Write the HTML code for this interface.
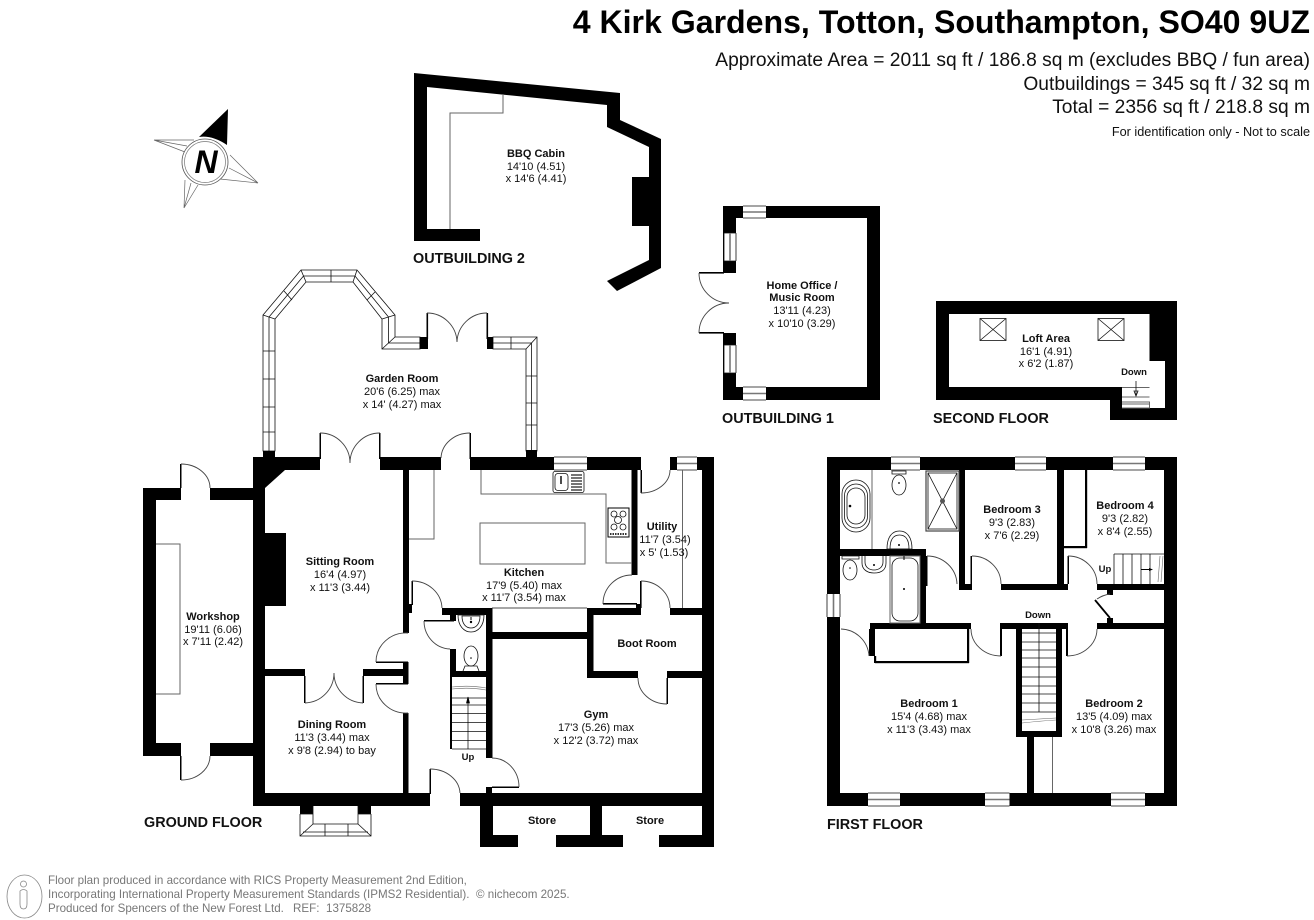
<!DOCTYPE html>
<html><head><meta charset="utf-8"><style>
html,body{margin:0;padding:0;background:#fff;width:1314px;height:920px;overflow:hidden}
svg{display:block}
text{font-family:"Liberation Sans",sans-serif;fill:#111}
.c{text-anchor:middle;font-size:11px}
.b{font-weight:bold}
.f{font-size:14.4px;font-weight:bold}
.h{text-anchor:end}
.foot{font-size:11.6px;fill:#777}
.t{fill:none;stroke:#111;stroke-width:.8}
.d{fill:none;stroke:#444;stroke-width:.9}
.g{fill:none;stroke:#666;stroke-width:1}
.k{fill:none;stroke:#000;stroke-width:1.6}
.m{fill:none;stroke:#777;stroke-width:1.6}
</style></head><body>
<svg width="1314" height="920" viewBox="0 0 1314 920" xmlns="http://www.w3.org/2000/svg">
<rect width="1314" height="920" fill="#fff"/>

<!-- header -->
<text x="1310" y="33" class="h b" font-size="32.1" style="fill:#000">4 Kirk Gardens, Totton, Southampton, SO40 9UZ</text>
<text x="1310" y="66" class="h" font-size="19.22">Approximate Area = 2011 sq ft / 186.8 sq m (excludes BBQ / fun area)</text>
<text x="1310" y="90" class="h" font-size="19.22">Outbuildings = 345 sq ft / 32 sq m</text>
<text x="1310" y="113" class="h" font-size="19.22">Total = 2356 sq ft / 218.8 sq m</text>
<text x="1310" y="136" class="h" font-size="12.7">For identification only - Not to scale</text>

<!-- compass -->
<g>
<path d="M228 109 L199 137 Q212 135 227 145 Z" fill="#000"/>
<path d="M154 140 L194 140 M154 140 L185 152 M154 140 L187 146 M258 183 L230 155 M258 183 L220 179 M258 183 L229 168 M184 208 L185 180 M184 208 L198 185 M184 208 L191 183" fill="none" stroke="#666" stroke-width=".7"/>
<circle cx="205" cy="162" r="23" fill="#fff" stroke="#555" stroke-width=".8"/>
<circle cx="205" cy="162" r="20.5" fill="#fff" stroke="#777" stroke-width=".7"/>
<text x="206" y="173" text-anchor="middle" font-size="32" font-weight="bold" font-style="italic" style="fill:#000">N</text>
</g>

<!-- OUTBUILDING 2 -->
<path d="M414 73 L620 93 L620 120 L661 139 L661 268 L617 291 L607 281 L649 260 L649 147 L607 127 L607 105 L427 87 L427 229 L480 229 L480 241 L414 241 Z" fill="#000"/>
<rect x="632" y="177" width="17" height="49" fill="#000"/>
<path d="M503 94 V113 H450 V229" class="g" stroke="#555"/>
<text x="536" y="157" class="c b">BBQ Cabin</text>
<text x="536" y="170" class="c">14'10 (4.51)</text>
<text x="536" y="182" class="c">x 14'6 (4.41)</text>
<text x="413" y="263" class="f">OUTBUILDING 2</text>

<!-- OUTBUILDING 1 -->
<path d="M723 206 H880 V400 H723 V333 H736 V273 H723 Z M736 218 V387 H867 V218 Z" fill="#000" fill-rule="evenodd"/>
<rect x="743" y="206" width="23" height="12" fill="#fff"/>
<rect x="743" y="387" width="23" height="13" fill="#fff"/>
<rect x="724" y="233" width="12" height="28" fill="#fff"/><rect x="724" y="345" width="12" height="28" fill="#fff"/>
<path d="M743 206H766M743 218H766M743 387H766M743 400H766M724 233H736M724 261H736M724 233V261M736 233V261M724 345H736M724 373H736M724 345V373M736 345V373" class="t"/>
<path d="M743 212H766M743 393.500H766M730 233V261M730 345V373" class="m"/>
<rect x="699" y="272" width="25" height="1.6" fill="#000"/><rect x="699" y="332" width="25" height="1.6" fill="#000"/>
<path d="M699 273 A30 30 0 0 0 729 303 M699 333 A30 30 0 0 1 729 303" class="d"/>
<text x="802" y="289" class="c b">Home Office /</text>
<text x="802" y="301" class="c b">Music Room</text>
<text x="802" y="314" class="c">13'11 (4.23)</text>
<text x="802" y="327" class="c">x 10'10 (3.29)</text>
<text x="722" y="423" class="f">OUTBUILDING 1</text>

<!-- SECOND FLOOR -->
<path d="M936 301 H1177 V420 H1110 V400 H936 Z" fill="#000"/>
<rect x="949" y="314" width="200.5" height="73" fill="#fff"/>
<rect x="1149.5" y="361" width="15.5" height="47" fill="#fff"/>
<rect x="1122" y="387" width="27.5" height="21" fill="#fff"/>
<path d="M1122 387.500H1149.500M1122 397H1149.500M1122 402H1149.500V408H1122M1122 404H1149" class="g"/>
<path d="M1136 381 V395 M1134 391 L1136 396 L1138 391Z" class="t"/>
<g class="t"><rect x="980" y="318.500" width="26" height="22"/><path d="M980 318.500L1006 340.500M1006 318.500L980 340.500"/><rect x="1098" y="318.500" width="26" height="22"/><path d="M1098 318.500L1124 340.500M1124 318.500L1098 340.500"/></g>
<text x="1046" y="342" class="c b">Loft Area</text>
<text x="1046" y="355" class="c">16'1 (4.91)</text>
<text x="1046" y="367" class="c">x 6'2 (1.87)</text>
<text x="1134" y="375" class="c b" style="font-size:9.5px">Down</text>
<text x="933" y="423" class="f">SECOND FLOOR</text>

<!-- GARDEN ROOM glazing -->
<path d="M263 451 V315 L301 270 H357 L395 315 V337 H420 V349 H382 V319 L353 282 H306 L275 319 V451 Z" fill="#fff" class="t"/>
<path d="M269 451 V317 L303.500 276 H355 L388.500 317 V343 H420" class="t"/>
<path d="M263 315 L275 319 M301 270 L306 282 M357 270 L353 282 M395 315 L382 319 M395 337 L382 349 M263 351H275M263 379H275M263 407H275M263 432H275M331 270V282M284 291L292 300M375 292L367 300" class="t"/>
<path d="M493 337 H537 V451 H526 V349 H493 Z" fill="#fff" class="t"/>
<path d="M493 343 H531.500 V451" class="t"/>
<path d="M537 337 L526 349 M526 376H537M526 403H537M526 425H537M511 337V349" class="t"/>
<rect x="419.5" y="337" width="8.5" height="12" fill="#000"/>
<rect x="487" y="337" width="6" height="12" fill="#000"/>
<rect x="263" y="451" width="12" height="8" fill="#000"/>
<rect x="526" y="450" width="11" height="8" fill="#000"/>
<rect x="426.5" y="313" width="1.6" height="26" fill="#000"/>
<rect x="486.5" y="313" width="1.6" height="26" fill="#000"/>
<path d="M427 313 A30 30 0 0 1 457 342 M487 313 A30 30 0 0 0 457 342" class="d"/>
<text x="402" y="382" class="c b">Garden Room</text>
<text x="402" y="395" class="c">20'6 (6.25) max</text>
<text x="402" y="408" class="c">x 14' (4.27) max</text>

<!-- GROUND FLOOR walls -->
<g fill="#000">
<rect x="143" y="488" width="13" height="268"/>
<rect x="143" y="488" width="38" height="12"/>
<rect x="210" y="488" width="43" height="12"/>
<rect x="143" y="743" width="38" height="13"/>
<rect x="210" y="743" width="43" height="13"/>
<rect x="253" y="457" width="12" height="349"/>
<rect x="253" y="457" width="67" height="13"/>
<path d="M265 488 L285 470 L265 470 Z"/>
<rect x="380" y="457" width="61" height="13"/>
<rect x="470" y="457" width="84" height="13"/>
<rect x="587" y="457" width="54" height="13"/>
<rect x="670" y="457" width="7" height="13"/>
<rect x="697" y="457" width="17" height="13"/>
<rect x="702" y="457" width="12" height="390"/>
<rect x="265" y="533" width="21" height="73"/>
<rect x="253" y="793" width="177" height="13"/>
<rect x="460" y="793" width="254" height="13"/>
<rect x="300" y="806" width="13" height="8"/>
<rect x="358" y="806" width="13" height="8"/>
<rect x="403" y="470" width="6" height="163"/>
<rect x="409" y="604" width="3" height="9"/>
<rect x="403" y="662" width="5.5" height="22"/>
<rect x="403" y="713" width="5.5" height="80"/>
<rect x="265" y="669" width="40" height="7"/>
<rect x="363" y="669" width="45" height="7"/>
<rect x="304" y="676" width="1.5" height="27"/>
<rect x="362.5" y="676" width="1.5" height="27"/>
<rect x="376" y="661.5" width="32" height="1.5"/>
<rect x="376" y="683" width="32" height="1.5"/>
<rect x="442" y="608" width="50" height="7"/>
<rect x="450" y="615" width="6" height="6"/>
<rect x="450" y="649" width="6" height="28"/>
<rect x="450" y="671" width="42" height="6"/>
<rect x="450" y="677" width="2" height="72"/>
<rect x="486" y="608" width="6.5" height="150"/>
<rect x="424" y="620" width="30" height="1.5"/>
<rect x="486" y="787" width="6" height="6"/>
<rect x="492" y="786.5" width="27" height="1.5"/>
<rect x="492" y="632" width="95" height="7"/>
<rect x="587" y="608" width="6.5" height="70"/>
<rect x="587" y="608" width="54" height="7"/>
<rect x="670" y="608" width="32" height="7"/>
<rect x="587" y="671" width="51" height="7"/>
<rect x="667" y="671" width="35" height="7"/>
<rect x="666.5" y="678" width="1.5" height="26"/>
<rect x="640" y="581" width="1.6" height="27"/>
<rect x="631.5" y="470" width="6" height="105"/>
<rect x="603" y="603" width="34" height="1.6"/>
<rect x="636" y="604" width="5" height="6"/>
<rect x="640.5" y="470" width="1.5" height="23"/>
<rect x="411.5" y="581" width="1.5" height="24"/>
<rect x="180" y="464" width="1.5" height="24"/>
<rect x="180" y="756" width="1.5" height="24"/>
<rect x="319.5" y="433" width="1.5" height="26"/>
<rect x="379" y="433" width="1.5" height="26"/>
<rect x="469.5" y="433" width="1.5" height="26"/>
<rect x="429.5" y="769" width="1.5" height="25"/>
<rect x="480" y="806" width="13" height="41"/>
<rect x="480" y="835" width="38" height="12"/>
<rect x="556" y="835" width="67" height="12"/>
<rect x="590" y="806" width="12" height="41"/>
<rect x="659" y="835" width="55" height="12"/>
</g>
<!-- GF window + line details -->
<rect x="554" y="457" width="33" height="13" fill="#fff"/>
<path d="M554 457H587M554 470H587" class="t"/><path d="M554 463.500H587" class="m"/>
<rect x="677" y="457" width="20" height="13" fill="#fff"/>
<path d="M677 457H697M677 470H697" class="t"/><path d="M677 463.500H697" class="m"/>
<!-- dining bay -->
<path d="M313 806 V824 M358 806 V824 M300 814 V836 H371 V814 M313 824 H358 M300 836 L313 824 M371 836 L358 824 M303 832 H368 M325 824 V836 M348 824 V836 M300 814H313M358 814H371" class="t"/>
<!-- door arcs -->
<path d="M181 464 A29 24 0 0 1 210 488
 M181 780 A29 24 0 0 0 210 756
 M320 433 A30 30 0 0 1 350 463 M380 433 A30 30 0 0 0 350 463
 M470 433 A29 26 0 0 0 441 458
 M412 581 A30 28 0 0 1 442 608
 M424 621 A27 28 0 0 0 450 649
 M376 662 A30 29 0 0 1 408 633
 M376 684 A30 29 0 0 0 408 713
 M305 703 A30 30 0 0 0 334 673 M363 703 A30 30 0 0 1 334 673
 M430 769 A30 25 0 0 1 460 793
 M492 758 A27 29 0 0 1 519 787
 M641 581 A29 27 0 0 1 670 608
 M667 704 A29 26 0 0 1 638 678
 M632 575 A29 29 0 0 0 603 604
 M641 493 A29 23 0 0 0 670 470" class="d"/>
<!-- kitchen units -->
<path d="M481 470 V494 H606 V563 H632" class="g"/>
<rect x="480" y="523" width="105" height="41" class="g"/>
<path d="M409 539 H434 V470" class="g"/>
<path d="M682.500 470 V608" class="g"/>
<path d="M492 608 H587" class="t"/>
<rect x="553" y="471.500" width="31" height="21" rx="2" class="t"/>
<rect x="555" y="473.500" width="13" height="17" rx="3" class="t"/>
<path d="M561 476V484" stroke="#000" stroke-width="1.4"/>
<path d="M571 475H582M571 478H582M571 481H582M571 484H582M571 487H582M571 490H582" stroke="#222" stroke-width="1.2"/>
<rect x="608" y="508" width="21" height="29" class="k" style="stroke-width:1"/>
<g class="t"><circle cx="614" cy="514" r="3"/><circle cx="623" cy="514" r="3"/><circle cx="618" cy="520" r="3.5"/><circle cx="614" cy="527" r="3"/><circle cx="623" cy="527" r="3"/></g>
<path d="M610 534H627" stroke="#333" stroke-width="2" stroke-dasharray="1.5 1"/>
<!-- WC fixtures -->
<path d="M458 615 H484 C484 626 478 632 471 632 C464 632 458 626 458 615Z" class="t"/><path d="M462 616 H480 C480 624 476 628 471 628 C466 628 462 624 462 616Z" class="t"/>
<circle cx="471" cy="622" r="1.2" fill="#000"/><path d="M471 617V620" stroke="#000"/>
<ellipse cx="471" cy="656" rx="7" ry="10" class="t"/><path d="M463 671 L465 666 H477 L479 671" class="t"/><circle cx="471" cy="658" r=".8" fill="#000"/>
<!-- GF stairs -->
<path d="M452 698H486M452 705H486M452 713.500H486M452 722.500H486M452 731.500H486M452 740.500H486M452 749H486" class="t"/>
<path d="M452 687 Q470 685 486 688 M452 689 Q470 687 486 690" class="g" style="stroke-width:.6"/>
<path d="M468 749 V700 M466.500 703 L468 697 L469.500 703Z" stroke="#000" fill="#000" stroke-width=".7"/>
<!-- workshop bench -->
<path d="M156 544 H180 V694 H156" class="g"/>

<!-- GF labels -->
<text x="340" y="565" class="c b">Sitting Room</text>
<text x="340" y="578" class="c">16'4 (4.97)</text>
<text x="340" y="591" class="c">x 11'3 (3.44)</text>
<text x="213" y="620" class="c b">Workshop</text>
<text x="213" y="633" class="c">19'11 (6.06)</text>
<text x="213" y="645" class="c">x 7'11 (2.42)</text>
<text x="332" y="728" class="c b">Dining Room</text>
<text x="332" y="741" class="c">11'3 (3.44) max</text>
<text x="332" y="754" class="c">x 9'8 (2.94) to bay</text>
<text x="524" y="576" class="c b">Kitchen</text>
<text x="524" y="589" class="c">17'9 (5.40) max</text>
<text x="524" y="601" class="c">x 11'7 (3.54) max</text>
<text x="662" y="530" class="c b">Utility</text>
<text x="665" y="543" class="c">11'7 (3.54)</text>
<text x="664" y="556" class="c">x 5' (1.53)</text>
<text x="647" y="647" class="c b">Boot Room</text>
<text x="596" y="718" class="c b">Gym</text>
<text x="596" y="731" class="c">17'3 (5.26) max</text>
<text x="596" y="744" class="c">x 12'2 (3.72) max</text>
<text x="542" y="824" class="c b">Store</text>
<text x="650" y="824" class="c b">Store</text>
<text x="468" y="760" class="c b" style="font-size:9.5px">Up</text>
<text x="144" y="827" class="f">GROUND FLOOR</text>

<!-- FIRST FLOOR walls -->
<path d="M827 457 H1177 V806 H827 Z M840 470 V793 H1164 V470 Z" fill="#000" fill-rule="evenodd"/>
<g fill="#fff">
<rect x="891" y="457" width="29" height="13"/><rect x="1015" y="457" width="31" height="13"/><rect x="1113" y="457" width="32" height="13"/>
<rect x="868" y="793" width="32" height="13"/><rect x="985" y="793" width="24.5" height="13"/><rect x="1111" y="793" width="34" height="13"/>
<rect x="827" y="594" width="13" height="23"/>
</g>
<path d="M891 457H920M891 470H920M1015 457H1046M1015 470H1046M1113 457H1145M1113 470H1145M868 793H900M868 806H900M985 793H1009.500M985 806H1009.500M1111 793H1145M1111 806H1145M827 594V617M840 594V617" class="t"/>
<path d="M891 463.500H920M1015 463.500H1046M1113 463.500H1145M868 799.500H900M985 799.500H1009.500M1111 799.500H1145M833.500 594V617" class="m"/>
<g fill="#000">
<rect x="840" y="549" width="86" height="7"/>
<rect x="920" y="549" width="6" height="80"/>
<rect x="870" y="623" width="101" height="6"/>
<rect x="869" y="629" width="6" height="27"/>
<rect x="874" y="656" width="2.2" height="7"/>
<rect x="875" y="661" width="94" height="2.2"/>
<rect x="967" y="629" width="2.2" height="34"/>
<rect x="959" y="470" width="6" height="120"/>
<rect x="959" y="584" width="13" height="6"/>
<rect x="1001" y="584" width="67" height="6"/>
<rect x="1057" y="470" width="7" height="120"/>
<rect x="1064" y="546" width="23" height="2.2"/>
<rect x="1085" y="470" width="2.2" height="78"/>
<rect x="1097" y="584" width="67" height="6"/>
<rect x="1107" y="590" width="6" height="5"/>
<rect x="1107" y="618" width="6" height="5"/>
<rect x="1097" y="623" width="67" height="6"/>
<rect x="1000" y="623" width="68" height="6"/>
<rect x="1000" y="629" width="2" height="27"/>
<rect x="1016" y="623" width="6" height="114"/>
<rect x="1056" y="623" width="6" height="114"/>
<rect x="1016" y="731" width="46" height="6"/>
<rect x="1066" y="629" width="2" height="27"/>
<rect x="1027" y="737" width="7" height="56"/>
<rect x="970.5" y="556" width="1.5" height="28"/>
<rect x="1067.5" y="556" width="1.5" height="28"/>
<rect x="926" y="556" width="1.5" height="30"/>
</g>
<path d="M1095 600 L1110 618" stroke="#000" stroke-width="1.8"/>
<path d="M1097 599 Q1103 595 1110 594" class="d"/>
<path d="M927 556 A30 29 0 0 1 957 584 M972 556 A29 28 0 0 1 1001 584 M1068 556 A29 28 0 0 1 1097 584 M1001 656 A30 27 0 0 1 971 629 M1067 656 A30 27 0 0 0 1097 629 M841 629 A29 29 0 0 1 869 656" class="d"/>
<path d="M1052.500 737 V793 M872 470 V549" class="g"/>
<!-- FF stairs -->
<path d="M1022 633H1056M1022 642H1056M1022 650H1056M1022 658H1056M1022 667H1056M1022 677H1056M1022 686H1056M1022 694H1056M1022 703H1056M1022 712H1056M1039 623V712" class="t"/>
<path d="M1022 720 Q1040 719 1056 718 M1022 723 Q1040 721 1056 720" class="g" style="stroke-width:.6"/>
<path d="M1114 554 H1164 M1114 554 V584 M1123 554V584M1132 554V584M1141 554V584M1150 554V584" class="t"/>
<path d="M1141 569.500H1150" stroke="#000"/><path d="M1149 568L1153 569.500L1149 571Z" fill="#000"/>
<path d="M1158 582L1160 556M1161 582L1163 556" class="g" style="stroke-width:.6"/>
<!-- FF fixtures -->
<rect x="842" y="480" width="28" height="52" rx="14" class="t"/>
<rect x="844.5" y="484" width="23" height="44" rx="11.5" class="t"/>
<rect x="847" y="488" width="18" height="36" rx="9" class="t"/>
<circle cx="850" cy="506" r="1.3" fill="#000"/>
<path d="M892 471 H906 V474 H892Z" class="t"/><ellipse cx="899" cy="485" rx="7" ry="10" class="t"/><circle cx="899" cy="483" r=".9" fill="#000"/>
<rect x="926" y="471" width="33" height="60" class="k" style="stroke-width:1.2;stroke:#444"/>
<rect x="928" y="473" width="29" height="56" class="t"/><path d="M928 473L957 529M957 473L928 529" class="t"/>
<circle cx="942.5" cy="501" r="2.5" fill="#555"/>
<path d="M887 549 C887 537 892 531 899.500 531 C907 531 912 537 912 549Z" class="t"/><path d="M890 549 C890 540 893 535 899.500 535 C906 535 909 540 909 549Z" class="t"/><circle cx="899" cy="545" r="1" fill="#000"/>
<path d="M842 556 H859 V559 H842Z" class="t"/><ellipse cx="850" cy="570" rx="7" ry="10" class="t"/><circle cx="850" cy="568" r=".8" fill="#000"/>
<path d="M862 556 V563 C862 570 868 573 874 573 C881 573 886 570 886 563 V556" class="t"/><path d="M865 556 V562 C865 567 869 570 874 570 C879 570 883 567 883 562 V556" class="t"/><circle cx="874" cy="565" r="1" fill="#000"/>
<rect x="890" y="556" width="30" height="67" class="g"/><rect x="892" y="558" width="26" height="63" rx="8" class="t"/><circle cx="904" cy="589" r="1" fill="#000"/><path d="M904 556V560" stroke="#000"/>
<!-- FF labels -->
<text x="1012" y="513" class="c b">Bedroom 3</text>
<text x="1012" y="526" class="c">9'3 (2.83)</text>
<text x="1012" y="539" class="c">x 7'6 (2.29)</text>
<text x="1125" y="509" class="c b">Bedroom 4</text>
<text x="1125" y="522" class="c">9'3 (2.82)</text>
<text x="1125" y="535" class="c">x 8'4 (2.55)</text>
<text x="1105" y="572" class="c b" style="font-size:9.5px">Up</text>
<text x="1038" y="618" class="c b" style="font-size:9.5px">Down</text>
<text x="929" y="707" class="c b">Bedroom 1</text>
<text x="929" y="720" class="c">15'4 (4.68) max</text>
<text x="929" y="733" class="c">x 11'3 (3.43) max</text>
<text x="1114" y="707" class="c b">Bedroom 2</text>
<text x="1114" y="720" class="c">13'5 (4.09) max</text>
<text x="1114" y="733" class="c">x 10'8 (3.26) max</text>
<text x="827" y="829" class="f">FIRST FLOOR</text>

<!-- footer -->
<ellipse cx="24.5" cy="896.5" rx="17.5" ry="21.5" fill="none" stroke="#888" stroke-width=".8"/>
<circle cx="23.5" cy="884" r="3" fill="none" stroke="#888" stroke-width=".8"/>
<path d="M20 891 Q23.500 888 27 891 V904 Q27 909 23.500 909 Q20 909 20 904Z" fill="none" stroke="#888" stroke-width=".8"/>
<text x="48" y="884" class="foot">Floor plan produced in accordance with RICS Property Measurement 2nd Edition,</text>
<text x="48" y="898" class="foot">Incorporating International Property Measurement Standards (IPMS2 Residential).</text>
<text x="476" y="898" class="foot">© nichecom 2025.</text>
<text x="48" y="912" class="foot">Produced for Spencers of the New Forest Ltd.</text>
<text x="293" y="912" class="foot">REF:</text>
<text x="326" y="912" class="foot">1375828</text>
</svg>
</body></html>
